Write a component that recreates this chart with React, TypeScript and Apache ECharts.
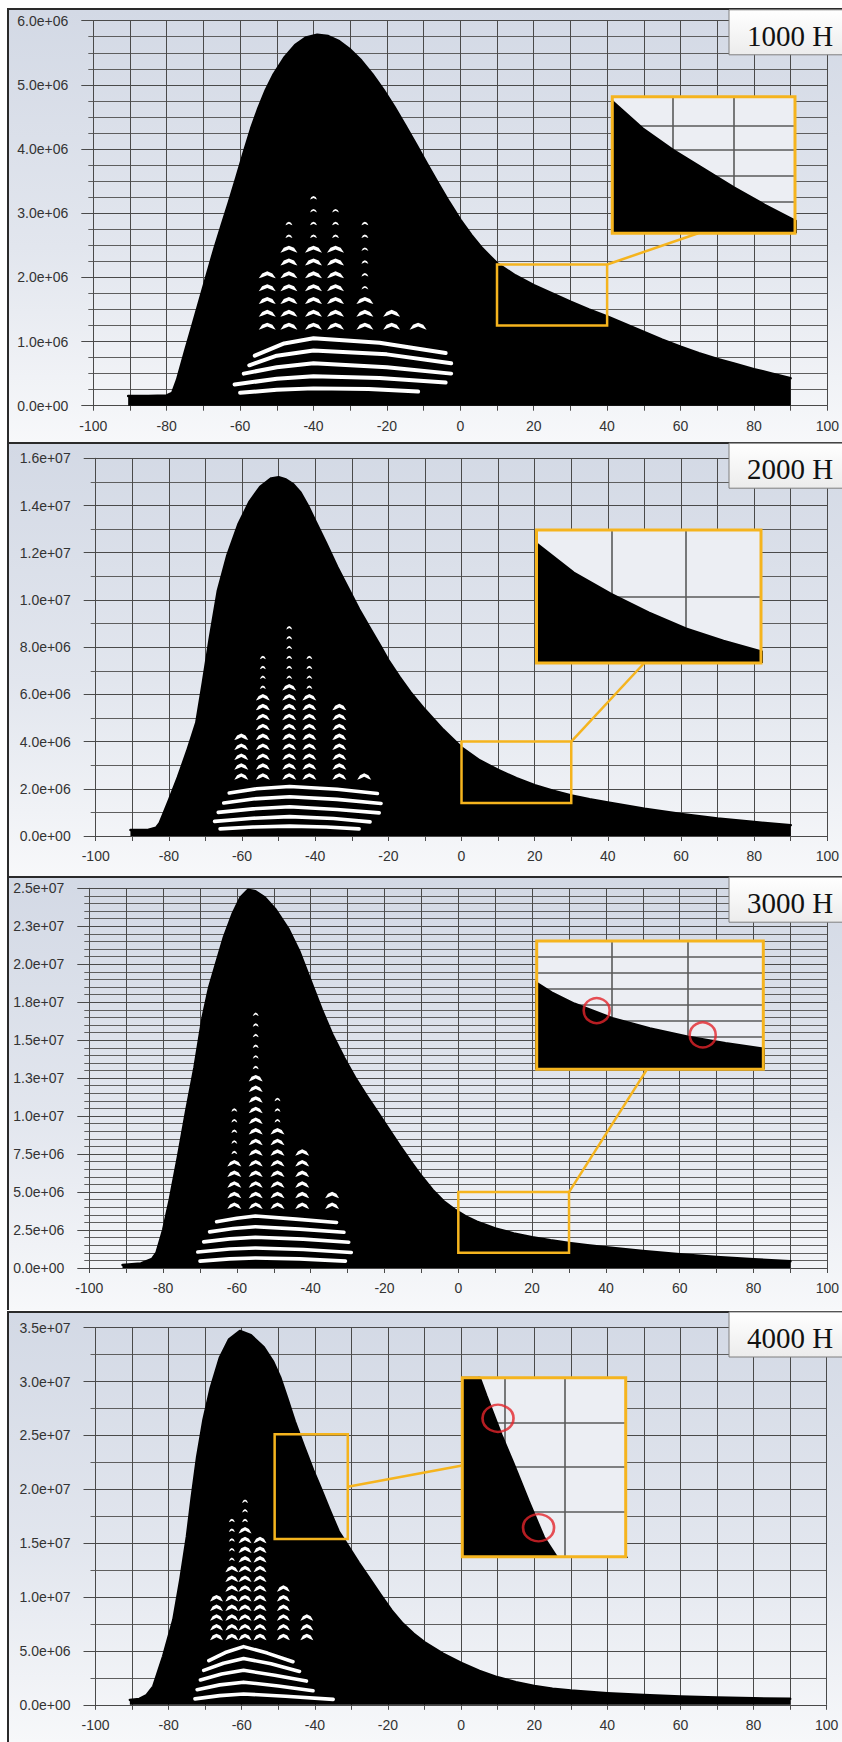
import React, { useEffect, useRef } from 'react';
import * as echarts from 'echarts';

const W = 842;
const H = 1742;
const M = 1e6;

// ---------- DATA (values in units of 1e6) ----------
const panelLabels = ['1000 H', '2000 H', '3000 H', '4000 H'];
const yMaxM = [6, 16, 25, 35];
const yStepM = [1, 2, 2.5, 5];
const yMinorSplits = [4, 2, 5, 2];

const env1000: number[][] = [
  [-90.5, 0.15], [-85, 0.15], [-80, 0.16], [-78.5, 0.2], [-77.2, 0.4], [-75, 0.85], [-73, 1.25], [-71, 1.65],
  [-69, 2.05], [-67, 2.45], [-65, 2.82], [-63, 3.18], [-61, 3.56], [-59, 3.95], [-57, 4.32], [-55, 4.64],
  [-53, 4.92], [-51, 5.15], [-48, 5.42], [-45, 5.62], [-42, 5.74], [-39, 5.78], [-36, 5.76], [-33, 5.68],
  [-30, 5.55], [-27, 5.38], [-24, 5.17], [-21, 4.93], [-18, 4.66], [-15, 4.37], [-12, 4.07], [-9, 3.76],
  [-6, 3.46], [-3, 3.17], [0, 2.9], [3, 2.66], [6, 2.45], [10, 2.22], [15, 2.03], [20, 1.88], [25, 1.75],
  [30, 1.62], [35, 1.5], [40, 1.39], [45, 1.27], [50, 1.15], [55, 1.03], [60, 0.92], [65, 0.82], [70, 0.73],
  [75, 0.65], [80, 0.57], [85, 0.5], [90, 0.43],
];
const env2000: number[][] = [
  [-90.5, 0.25], [-86, 0.25], [-83.5, 0.35], [-82.5, 0.55], [-80, 1.5], [-77.5, 2.5], [-75, 3.6], [-72.5, 4.8],
  [-70.7, 6.5], [-68.9, 8.3], [-66.6, 10.4], [-64, 11.9], [-61, 13.2], [-58, 14.15], [-55, 14.8], [-52, 15.15],
  [-50, 15.2], [-48, 15.1], [-46, 14.9], [-44, 14.55], [-42, 14.0], [-40, 13.35], [-37, 12.4], [-34, 11.4],
  [-31, 10.5], [-28, 9.6], [-25, 8.8], [-22, 8.0], [-20, 7.45], [-17, 6.75], [-14, 6.1], [-10, 5.35], [-5, 4.5],
  [0, 3.75], [5, 3.2], [10, 2.8], [15, 2.45], [20, 2.15], [25, 1.92], [30, 1.72], [35, 1.56], [40, 1.42],
  [50, 1.15], [60, 0.93], [70, 0.74], [80, 0.59], [90, 0.46],
];
const env3000: number[][] = [
  [-91, 0.2], [-86, 0.3], [-83, 0.6], [-81.8, 1.0], [-80, 2.5], [-78.2, 4.5], [-76, 7.3], [-73.7, 10.4],
  [-71.5, 13.2], [-69.3, 16.5], [-67.5, 18.5], [-65.7, 20.0], [-63.5, 21.8], [-61.2, 23.3], [-59, 24.4],
  [-57, 24.9], [-55, 24.8], [-52.5, 24.4], [-49.5, 23.6], [-46, 22.3], [-43, 20.8], [-40, 18.9], [-37, 17.0],
  [-34, 15.3], [-31, 13.85], [-28, 12.55], [-25, 11.4], [-22, 10.3], [-19, 9.2], [-16, 8.1], [-13, 7.05],
  [-10, 6.05], [-7, 5.15], [-4, 4.4], [-1, 3.85], [2, 3.4], [5, 3.05], [10, 2.6], [15, 2.28], [20, 2.02],
  [25, 1.82], [30, 1.65], [35, 1.5], [40, 1.37], [50, 1.12], [60, 0.9], [70, 0.72], [80, 0.57], [90, 0.45],
];
const env4000: number[][] = [
  [-90.6, 0.45], [-88, 0.55], [-86, 0.9], [-84.2, 1.7], [-81.5, 4.5], [-78.7, 7.9], [-76.8, 11.6], [-75, 15.6],
  [-73.7, 19.2], [-72.2, 23.0], [-70.5, 26.4], [-68.5, 29.4], [-66, 32.2], [-63.5, 33.9], [-60.5, 34.7],
  [-57.5, 34.3], [-54, 33.2], [-51.5, 31.9], [-49.5, 30.4], [-47.5, 28.4], [-45.5, 26.3], [-43, 24.0],
  [-40.5, 21.8], [-38.5, 20.2], [-36, 18.1], [-33.5, 16.1], [-31, 14.8], [-28, 13.2], [-25, 11.7], [-22, 10.2],
  [-19, 8.75], [-16, 7.55], [-13, 6.6], [-10, 5.8], [-5, 4.75], [0, 3.9], [5, 3.15], [10, 2.55], [15, 2.1],
  [20, 1.75], [25, 1.5], [30, 1.32], [40, 1.08], [50, 0.9], [60, 0.76], [70, 0.67], [80, 0.6], [90, 0.55],
];

// continuous white bands inside the black mass
const stripes1000: number[][][] = [
  [[-60, 0.2], [-50, 0.25], [-40, 0.27], [-25, 0.26], [-11.5, 0.22]],
  [[-61.5, 0.33], [-50, 0.42], [-40, 0.46], [-22, 0.43], [-4, 0.36]],
  [[-59, 0.5], [-50, 0.6], [-40, 0.66], [-20, 0.6], [-2.5, 0.5]],
  [[-57.5, 0.63], [-50, 0.78], [-40, 0.86], [-20, 0.8], [-2.5, 0.66]],
  [[-56, 0.78], [-48, 0.97], [-40, 1.05], [-22, 0.98], [-4, 0.82]],
];
const stripes2000: number[][][] = [
  [[-66, 0.3], [-57, 0.38], [-47, 0.42], [-37, 0.38], [-28, 0.3]],
  [[-67.5, 0.62], [-57, 0.75], [-47, 0.82], [-35, 0.74], [-25, 0.6]],
  [[-66.5, 1.0], [-57, 1.15], [-47, 1.24], [-34, 1.12], [-22.5, 0.98]],
  [[-65, 1.4], [-57, 1.57], [-47, 1.66], [-34, 1.55], [-22, 1.38]],
  [[-63.5, 1.82], [-56, 2.0], [-47, 2.1], [-34, 1.98], [-23, 1.8]],
];
const stripes3000: number[][][] = [
  [[-70, 0.45], [-62, 0.6], [-55, 0.66], [-43, 0.6], [-30.6, 0.45]],
  [[-70.6, 1.05], [-62, 1.25], [-55, 1.32], [-42, 1.22], [-29, 1.02]],
  [[-69, 1.72], [-62, 1.92], [-55, 2.02], [-42, 1.9], [-29.7, 1.7]],
  [[-67.4, 2.38], [-61, 2.6], [-55, 2.72], [-43, 2.56], [-31, 2.35]],
  [[-65.5, 3.05], [-60, 3.28], [-55, 3.42], [-44, 3.22], [-33, 3.0]],
];
const stripes4000: number[][][] = [
  [[-72.8, 0.55], [-66, 0.85], [-59.5, 1.0], [-48, 0.8], [-35, 0.5]],
  [[-72.2, 1.4], [-66, 1.85], [-59.5, 2.1], [-50, 1.75], [-40.5, 1.3]],
  [[-71.3, 2.3], [-65.5, 2.85], [-59.5, 3.2], [-51, 2.75], [-42.3, 2.2]],
  [[-70.4, 3.2], [-65, 3.85], [-59.5, 4.3], [-52, 3.8], [-44.2, 3.1]],
  [[-69, 4.1], [-64.5, 4.85], [-59.5, 5.4], [-53, 4.8], [-46, 4.0]],
];

// rows of white dashes above the bands, and the columns they sit in: [x, dense top, sparse top]
const dashRows1000 = [1.24, 1.44, 1.64, 1.84, 2.04, 2.24, 2.44, 2.64, 2.84, 3.04, 3.24];
const dashCols1000 = [[-52.6, 2.17, 2.17], [-46.7, 2.48, 3.0], [-40, 2.6, 3.26], [-34, 2.6, 3.08], [-26, 1.7, 2.9], [-18.7, 1.47, 1.47], [-11.5, 1.25, 1.25]];
const dashRows2000 = [2.52, 2.94, 3.36, 3.78, 4.2, 4.62, 5.04, 5.46, 5.88, 6.3, 6.72, 7.14, 7.56, 7.98, 8.4, 8.82];
const dashCols2000 = [[-60.2, 4.36, 4.36], [-54.3, 5.9, 7.8], [-47.1, 6.7, 9.0], [-41.6, 5.9, 7.8], [-33.4, 5.6, 5.6], [-26.6, 2.6, 2.6]];
const dashRows3000 = [4.1, 4.8, 5.5, 6.2, 6.9, 7.6, 8.3, 9.0, 9.7, 10.4, 11.1, 11.8, 12.5, 13.2, 13.9, 14.6, 15.3, 16.0, 16.7];
const dashCols3000 = [[-60.7, 7.1, 10.4], [-54.9, 12.6, 17.0], [-49.0, 9.0, 11.3], [-42.3, 7.6, 7.6], [-34.2, 4.8, 4.8]];
const dashRows4000 = [6.3, 7.2, 8.1, 9.0, 9.9, 10.8, 11.7, 12.6, 13.5, 14.4, 15.3, 16.2, 17.1, 18.0, 18.9];
const dashCols4000 = [[-66.9, 10.0, 10.0], [-62.7, 13.1, 17.8], [-59.1, 16.2, 19.0], [-55.0, 15.3, 15.3], [-48.6, 11.0, 11.0], [-42.2, 8.6, 8.6]];

// zoom boxes on the main plots: [xMin, xMax, yMin, yMax]
const zoomBoxes = [[10, 40, 1.25, 2.2], [0, 30, 1.4, 4.0], [0, 30, 1.0, 5.0], [-51, -31, 15.4, 25.1]];
// magnified views: [xMin, xMax, yMin, yMax]
const insetRanges = [[10, 40, 1.3, 2.25], [0, 30, 1.5, 4.0], [0, 30, 1.0, 5.0], [-47, -20, 15, 25]];
const insetGridX = [[20, 30], [10, 20], [10, 20], [-40, -30]];
const insetGridY = [[1.52, 1.7, 1.88, 2.05], [2.75], [1.5, 2, 2.5, 3, 3.5, 4, 4.5], [17.5, 20, 22.5]];
const insetCircles = [[], [], [[7.94, 2.83], [21.98, 2.07]], [[-41.1, 22.73], [-34.4, 16.62]]];
const linkFrom = [[40, 2.2], [30, 4.0], [30, 5.0], [-31, 20.24]];
const linkTo = [[24.1, 1.3], [14.4, 1.5], [14.6, 1.0], [-47, 20.1]];

const envelopes = [env1000, env2000, env3000, env4000];
const stripeSets = [stripes1000, stripes2000, stripes3000, stripes4000];
const dashRowSets = [dashRows1000, dashRows2000, dashRows3000, dashRows4000];
const dashColSets = [dashCols1000, dashCols2000, dashCols3000, dashCols4000];

// ---------- LAYOUT / STYLE ----------
const PANEL_TOPS = [8.3, 441.7, 875.7, 1310.5];
const MAIN_GRIDS = [
  { left: 93.3, top: 20.7, width: 738.2, height: 385 },
  { left: 95.7, top: 458.3, width: 733.4, height: 377.7 },
  { left: 89.3, top: 888.3, width: 741.7, height: 379.7 },
  { left: 95.5, top: 1327.7, width: 731.2, height: 377.1 },
];
const INSET_GRIDS = [
  { left: 612.3, top: 96.7, width: 182.7, height: 136.6 },
  { left: 536.5, top: 530, width: 224.5, height: 133 },
  { left: 536.7, top: 941, width: 226.6, height: 128.3 },
  { left: 462.3, top: 1377.7, width: 163.4, height: 179 },
];
const CIRCLE_SIZES = [[0, 0], [0, 0], [26, 25], [31, 27]];
const STRIPE_W = [4, 3.6, 3.6, 3.6];
const DASH_SIZE = [[17, 7], [14, 6.5], [14, 6.5], [13, 6.5]];
const SPARSE_SIZE = [[7, 3.5], [6, 3.5], [6, 3.5], [6, 3.5]];
const YEL = '#f5b41e';
const GRID_C = '#4a4a4a';
const MINOR_C = '#5e5e5e';
const ARCH = 'path://M0,10L4,3L10,0L16,3L20,10L16,8.5L10,5.5L4,8.5Z';
const FONT = '"Liberation Sans", Arial, sans-serif';

function fmtExp(v: number): string {
  if (v === 0) return '0.0e+00';
  let e = Math.floor(Math.log10(v) + 1e-9);
  let s = (v / Math.pow(10, e)).toFixed(1);
  if (s === '10.0') { e += 1; s = '1.0'; }
  return s + 'e+' + String(e).padStart(2, '0');
}

function buildOption() {
  const grid: any[] = [];
  const xAxis: any[] = [];
  const yAxis: any[] = [];
  const series: any[] = [];

  for (let i = 0; i < 4; i++) {
    grid.push({ ...MAIN_GRIDS[i], containLabel: false });
    xAxis.push({
      type: 'value', gridIndex: i, min: -100, max: 100, interval: 20,
      axisLine: { show: true, onZero: false, lineStyle: { color: GRID_C } },
      axisTick: { show: true, length: 5, lineStyle: { color: GRID_C } },
      minorTick: { show: true, splitNumber: 2, length: 5, lineStyle: { color: GRID_C } },
      splitLine: { show: true, lineStyle: { color: GRID_C, width: 1 } },
      minorSplitLine: { show: true, lineStyle: { color: GRID_C, width: 1 } },
      axisLabel: { fontFamily: FONT, fontSize: 14, color: '#333', margin: 13 },
    });
    yAxis.push({
      type: 'value', gridIndex: i, min: 0, max: yMaxM[i] * M, interval: yStepM[i] * M,
      axisLine: { show: true, onZero: false, lineStyle: { color: GRID_C } },
      axisTick: { show: true, length: 12, lineStyle: { color: GRID_C } },
      minorTick: { show: true, splitNumber: yMinorSplits[i], length: 5, lineStyle: { color: MINOR_C } },
      splitLine: { show: true, lineStyle: { color: GRID_C, width: 1.2 } },
      minorSplitLine: { show: true, lineStyle: { color: MINOR_C, width: 1 } },
      axisLabel: { fontFamily: FONT, fontSize: 14, color: '#333', margin: 25, formatter: fmtExp },
    });

    const env = envelopes[i].map(([x, v]) => [x, v * M]);
    const b = zoomBoxes[i];
    series.push({
      type: 'line', xAxisIndex: i, yAxisIndex: i, data: env, symbol: 'none', showSymbol: false,
      smooth: false, silent: true, z: 2,
      lineStyle: { color: '#000', width: 2.5, cap: 'round', join: 'round' },
      areaStyle: { color: '#000', opacity: 1, origin: 'start' },
      markArea: {
        silent: true, z: 10, label: { show: false },
        itemStyle: { color: 'rgba(0,0,0,0)', borderColor: YEL, borderWidth: 2.5 },
        data: [[{ xAxis: b[0], yAxis: b[2] * M }, { xAxis: b[1], yAxis: b[3] * M }]],
      },
    });
    series.push({
      type: 'lines', coordinateSystem: 'cartesian2d', xAxisIndex: i, yAxisIndex: i, polyline: true,
      silent: true, z: 3,
      lineStyle: { color: '#fff', width: STRIPE_W[i], opacity: 1, cap: 'round', join: 'round' },
      data: stripeSets[i].map((s) => ({ coords: s.map(([x, v]) => [x, v * M]) })),
    });
    const dense: number[][] = [];
    const sparse: number[][] = [];
    dashColSets[i].forEach(([x, dt, st]) => {
      dashRowSets[i].forEach((r) => {
        if (r <= dt) dense.push([x, r * M]);
        else if (r <= st) sparse.push([x, r * M]);
      });
    });
    series.push({
      type: 'scatter', xAxisIndex: i, yAxisIndex: i, data: dense, symbol: ARCH,
      symbolSize: DASH_SIZE[i], itemStyle: { color: '#fff', opacity: 1 }, silent: true, z: 4,
    });
    series.push({
      type: 'scatter', xAxisIndex: i, yAxisIndex: i, data: sparse, symbol: ARCH,
      symbolSize: SPARSE_SIZE[i], itemStyle: { color: '#fff', opacity: 1 }, silent: true, z: 4,
    });
  }

  for (let i = 0; i < 4; i++) {
    const gi = 4 + i;
    const r = insetRanges[i];
    grid.push({ ...INSET_GRIDS[i], show: true, backgroundColor: '#eceef3', borderWidth: 0, z: 1 });
    xAxis.push({ type: 'value', gridIndex: gi, min: r[0], max: r[1], show: false });
    yAxis.push({ type: 'value', gridIndex: gi, min: r[2] * M, max: r[3] * M, show: false });
    series.push({
      type: 'line', xAxisIndex: gi, yAxisIndex: gi, data: envelopes[i].map(([x, v]) => [x, v * M]),
      symbol: 'none', showSymbol: false, smooth: false, silent: true, z: 2, clip: true,
      lineStyle: { color: '#000', width: 2 },
      areaStyle: { color: '#000', opacity: 1, origin: 'start' },
      markLine: {
        silent: true, z: 1.5, symbol: ['none', 'none'], label: { show: false },
        lineStyle: { color: '#5a5a5a', width: 1.6, type: 'solid' },
        emphasis: { disabled: true },
        data: [
          ...insetGridX[i].map((x) => ({ xAxis: x })),
          ...insetGridY[i].map((y) => ({ yAxis: y * M })),
        ],
      },
    });
    series.push({
      type: 'scatter', xAxisIndex: gi, yAxisIndex: gi, data: insetCircles[i].map(([x, v]) => [x, v * M]),
      symbol: 'circle', symbolSize: CIRCLE_SIZES[i], silent: true, z: 5, clip: false,
      itemStyle: { color: 'rgba(0,0,0,0)', borderColor: '#e3242b', borderWidth: 2.5 },
    });
  }

  return { animation: false, backgroundColor: 'transparent', grid, xAxis, yAxis, series };
}

export default function App() {
  const ref = useRef<HTMLDivElement>(null);
  useEffect(() => {
    const el = ref.current;
    if (!el) return;
    const chart = echarts.init(el, null, { renderer: 'svg' });
    chart.setOption(buildOption());

    const g: any[] = [];
    for (let i = 0; i < 4; i++) {
      const top = PANEL_TOPS[i];
      g.push({
        type: 'rect', z: 100, shape: { x: 729, y: top + 1.5, width: 120, height: 45 },
        style: {
          fill: new echarts.graphic.LinearGradient(0, 0, 0, 1, [
            { offset: 0, color: '#ffffff' }, { offset: 1, color: '#ececec' },
          ]),
          stroke: '#7f7f7f', lineWidth: 1,
        },
      });
      g.push({
        type: 'text', z: 101, x: 790, y: top + 27.5,
        style: {
          text: panelLabels[i], font: '29px "Liberation Serif", "Times New Roman", serif',
          fill: '#111', align: 'center', verticalAlign: 'middle',
        },
      });
      const ig = INSET_GRIDS[i];
      g.push({
        type: 'rect', z: 100, shape: { x: ig.left, y: ig.top, width: ig.width, height: ig.height },
        style: { fill: 'none', stroke: YEL, lineWidth: 3 },
      });
      const a = chart.convertToPixel({ gridIndex: i }, [linkFrom[i][0], linkFrom[i][1] * M]) as number[];
      const b = chart.convertToPixel({ gridIndex: 4 + i }, [linkTo[i][0], linkTo[i][1] * M]) as number[];
      if (a && b) {
        g.push({
          type: 'line', z: 100, shape: { x1: a[0], y1: a[1], x2: b[0], y2: b[1] },
          style: { stroke: YEL, lineWidth: 2.5 },
        });
      }
    }
    chart.setOption({ graphic: g });
    return () => chart.dispose();
  }, []);

  return (
    <div style={{ position: 'absolute', left: 0, top: 0, width: W, height: H, background: '#fff', overflow: 'hidden' }}>
      {PANEL_TOPS.map((t, i) => (
        <div
          key={i}
          style={{
            position: 'absolute', left: 6.5, top: t, width: W - 6.5,
            height: (i < 3 ? PANEL_TOPS[i + 1] : H) - t, boxSizing: 'border-box',
            borderTop: '2px solid #2a2a2a', borderLeft: '2px solid #2a2a2a',
            background: 'linear-gradient(to bottom, #d3d9e5 0%, #e2e6ee 55%, #f7f8fa 100%)',
          }}
        />
      ))}
      <div ref={ref} style={{ position: 'absolute', left: 0, top: 0, width: W, height: H }} />
    </div>
  );
}
